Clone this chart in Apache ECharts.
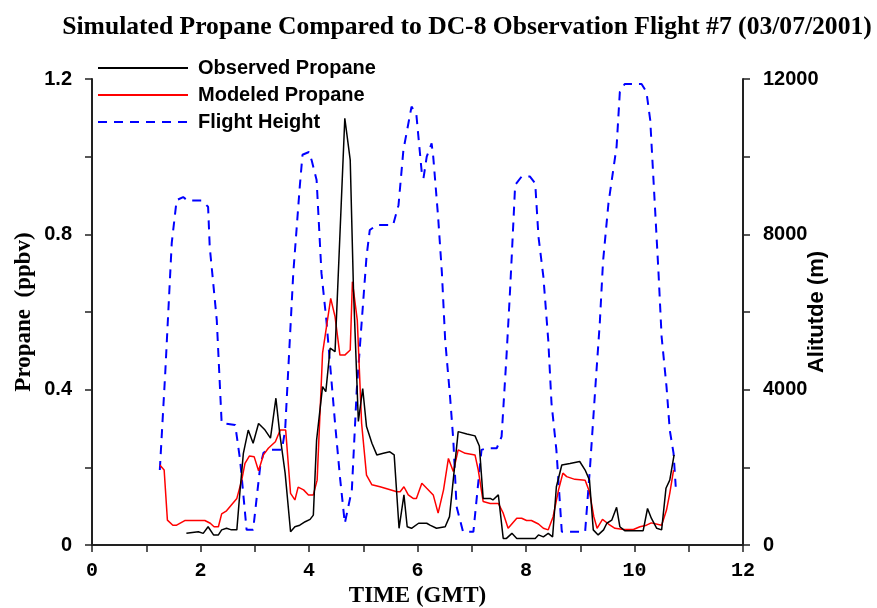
<!DOCTYPE html>
<html><head><meta charset="utf-8">
<script src="https://cdn.jsdelivr.net/npm/echarts@6/dist/echarts.min.js"></script>
<style>html,body{margin:0;padding:0;background:#fff}#c{width:877px;height:608px}</style>
</head><body><div id="c"></div>
<script>
var obsTime = [1.74,1.96,2.05,2.14,2.24,2.33,2.39,2.48,2.57,2.67,2.73,2.79,2.88,2.97,3.07,3.19,3.29,3.39,3.46,3.56,3.66,3.74,3.83,3.93,4.02,4.08,4.14,4.25,4.31,4.39,4.48,4.66,4.76,4.82,4.91,4.99,5.06,5.16,5.25,5.37,5.49,5.57,5.66,5.75,5.81,5.89,6.02,6.17,6.23,6.35,6.51,6.59,6.75,6.91,7.06,7.14,7.21,7.34,7.39,7.49,7.58,7.64,7.74,7.83,8.17,8.23,8.32,8.41,8.49,8.56,8.66,8.81,8.99,9.09,9.17,9.24,9.33,9.43,9.49,9.58,9.67,9.73,9.82,10.16,10.24,10.31,10.41,10.50,10.58,10.65,10.73];
var obsValue = [0.030,0.034,0.030,0.047,0.026,0.026,0.039,0.043,0.039,0.039,0.142,0.236,0.296,0.262,0.313,0.296,0.275,0.378,0.288,0.185,0.034,0.047,0.051,0.060,0.066,0.077,0.270,0.408,0.395,0.507,0.498,1.099,0.991,0.657,0.318,0.403,0.305,0.262,0.232,0.236,0.240,0.232,0.043,0.129,0.047,0.043,0.056,0.056,0.051,0.043,0.047,0.073,0.292,0.286,0.281,0.255,0.120,0.120,0.116,0.129,0.017,0.017,0.030,0.017,0.017,0.026,0.021,0.030,0.021,0.150,0.206,0.210,0.215,0.193,0.167,0.039,0.026,0.039,0.056,0.064,0.097,0.047,0.037,0.037,0.094,0.069,0.043,0.039,0.146,0.167,0.232];

var modTime = [1.25,1.33,1.39,1.49,1.56,1.71,2.08,2.18,2.25,2.33,2.39,2.48,2.67,2.76,2.82,2.90,2.99,3.07,3.16,3.25,3.38,3.47,3.57,3.66,3.74,3.80,3.90,3.99,4.08,4.15,4.25,4.40,4.48,4.57,4.66,4.76,4.80,4.89,4.97,5.06,5.16,5.31,5.62,5.68,5.75,5.83,5.92,5.98,6.08,6.17,6.29,6.38,6.48,6.57,6.66,6.75,6.88,7.06,7.12,7.21,7.34,7.49,7.58,7.67,7.83,7.92,8.01,8.10,8.23,8.32,8.41,8.50,8.60,8.68,8.75,8.90,9.09,9.17,9.25,9.31,9.41,9.52,9.64,9.80,9.98,10.10,10.22,10.31,10.50,10.59,10.65,10.72];
var modValue = [0.206,0.193,0.064,0.051,0.051,0.063,0.063,0.056,0.047,0.047,0.080,0.088,0.120,0.167,0.210,0.229,0.227,0.191,0.232,0.249,0.266,0.296,0.296,0.133,0.116,0.149,0.142,0.129,0.129,0.167,0.494,0.635,0.588,0.489,0.489,0.502,0.678,0.579,0.313,0.180,0.155,0.150,0.137,0.137,0.150,0.129,0.120,0.120,0.159,0.146,0.129,0.082,0.142,0.223,0.189,0.245,0.236,0.232,0.193,0.112,0.107,0.107,0.082,0.043,0.069,0.069,0.063,0.063,0.054,0.043,0.039,0.073,0.142,0.185,0.176,0.169,0.167,0.137,0.073,0.043,0.066,0.054,0.043,0.040,0.040,0.047,0.051,0.057,0.051,0.090,0.133,0.193];

var altTime = [1.25,1.35,1.47,1.56,1.68,1.76,2.02,2.14,2.17,2.30,2.39,2.64,2.73,2.85,2.97,3.10,3.16,3.25,3.50,3.56,3.71,3.83,3.88,4.00,4.05,4.14,4.23,4.32,4.48,4.57,4.66,4.79,4.88,4.97,5.06,5.12,5.25,5.55,5.65,5.74,5.89,5.98,6.08,6.11,6.17,6.26,6.29,6.38,6.45,6.51,6.60,6.66,6.72,6.84,7.03,7.18,7.27,7.46,7.55,7.64,7.70,7.74,7.80,7.92,8.07,8.17,8.23,8.32,8.41,8.47,8.56,8.66,9.09,9.18,9.29,9.36,9.42,9.52,9.67,9.73,9.82,10.13,10.22,10.29,10.38,10.44,10.50,10.59,10.65,10.72,10.76];
var altValue = [1930,4430,7780,8880,8960,8870,8870,8710,7680,5790,3140,3090,2190,390,390,2020,2370,2450,2450,2960,7000,9230,10050,10120,9900,9400,7000,5790,3140,1760,560,1420,3990,5720,7420,8110,8240,8240,8750,10170,11290,11070,9570,9440,10000,10340,10000,8450,7000,5280,3820,2700,990,340,340,2450,2490,2490,2790,4850,6390,7510,9270,9490,9490,9310,7940,6910,5280,3650,2450,340,340,2000,4300,5710,7300,8800,10260,11670,11870,11870,11670,10940,8630,7080,5360,4080,2960,2360,1500];

var xTicks = [0,2,4,6,8,10,12];
var leftTicks = [0,0.4,0.8,1.2];
var rightTicks = [0,4000,8000,12000];

function pairs(a,b){return a.map(function(t,i){return [t,b[i]];});}

var chart = echarts.init(document.getElementById('c'), null, {renderer:'canvas'});
var axisCol = '#222';
chart.setOption({
  animation:false,
  backgroundColor:'#fff',
  title:{text:'Simulated Propane Compared to DC-8 Observation Flight #7 (03/07/2001)',left:462,textAlign:'center',top:9,
    textStyle:{fontFamily:'Liberation Serif',fontWeight:'bold',fontSize:25.6,color:'#000'}},
  legend:{orient:'vertical',left:97,top:58,padding:0,itemWidth:90,itemHeight:14,itemGap:7,
    itemStyle:{opacity:0,color:'transparent',borderWidth:0},
    textStyle:{fontFamily:'Liberation Sans',fontWeight:'bold',fontSize:20,color:'#000',padding:[0,0,0,5]},
    data:['Observed Propane','Modeled Propane','Flight Height']},
  grid:{left:92,right:134,top:79,bottom:63,outerBoundsMode:'none',containLabel:false},
  xAxis:{type:'value',min:0,max:12,interval:1,
    name:'TIME (GMT)',nameLocation:'middle',nameGap:40,nameMoveOverlap:false,
    nameTextStyle:{fontFamily:'Liberation Serif',fontWeight:'bold',fontSize:23,color:'#000'},
    axisLine:{lineStyle:{color:axisCol,width:2}},
    axisTick:{length:7,lineStyle:{color:axisCol,width:1.5}},
    splitLine:{show:false},
    axisLabel:{margin:16,fontFamily:'Liberation Mono',fontWeight:'bold',fontSize:20,color:'#000',
      formatter:function(v){return xTicks.indexOf(v)>=0?String(v):'';}}},
  yAxis:[{type:'value',min:0,max:1.2,interval:0.2,position:'left',
    name:'Propane  (ppbv)',nameLocation:'middle',nameGap:56,nameRotate:90,nameMoveOverlap:false,
    nameTextStyle:{fontFamily:'Liberation Serif',fontWeight:'bold',fontSize:23,color:'#000'},
    axisLine:{show:true,lineStyle:{color:axisCol,width:2}},
    axisTick:{show:true,length:7,lineStyle:{color:axisCol,width:1.5}},
    splitLine:{show:false},
    axisLabel:{margin:20,fontFamily:'Liberation Sans',fontWeight:'bold',fontSize:20,color:'#000',
      formatter:function(v){var r=Math.round(v*10)/10;return leftTicks.indexOf(r)>=0?(r===0?'0':r.toFixed(1)):'';}}},
   {type:'value',min:0,max:12000,interval:2000,position:'right',
    name:'Alitutde (m)',nameLocation:'middle',nameGap:63,nameRotate:90,nameMoveOverlap:false,
    nameTextStyle:{fontFamily:'Liberation Sans',fontWeight:'bold',fontSize:22,color:'#000'},
    axisLine:{show:true,lineStyle:{color:axisCol,width:2}},
    axisTick:{show:true,length:7,lineStyle:{color:axisCol,width:1.5}},
    splitLine:{show:false},
    axisLabel:{margin:20,fontFamily:'Liberation Sans',fontWeight:'bold',fontSize:20,color:'#000',
      formatter:function(v){return rightTicks.indexOf(v)>=0?String(v):'';}}}],
  series:[
    {name:'Observed Propane',type:'line',data:pairs(obsTime,obsValue),symbol:'none',z:4,
      lineStyle:{color:'#000',width:1.5},itemStyle:{color:'#000'}},
    {name:'Modeled Propane',type:'line',data:pairs(modTime,modValue),symbol:'none',z:3,
      lineStyle:{color:'#ff0000',width:1.5},itemStyle:{color:'#ff0000'}},
    {name:'Flight Height',type:'line',yAxisIndex:1,data:pairs(altTime,altValue),symbol:'none',z:2,
      lineStyle:{color:'#0000ff',width:2,type:[9,7]},itemStyle:{color:'#0000ff'}}
  ]
});
</script></body></html>
